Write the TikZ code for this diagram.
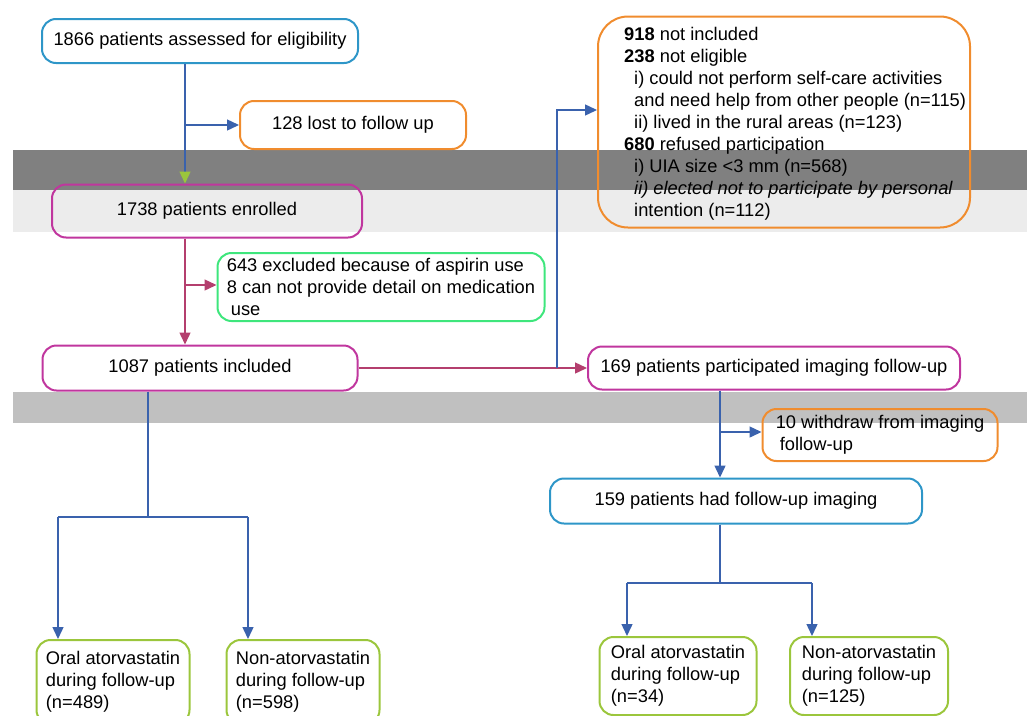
\documentclass[tikz,border=0pt]{standalone}
\usepackage{fontspec}
\setmainfont{Liberation Sans}
\usetikzlibrary{arrows.meta}

\definecolor{boxblue}{HTML}{2E96C8}
\definecolor{lineblue}{HTML}{3A62AD}
\definecolor{orgline}{HTML}{F08C2E}
\definecolor{magbox}{HTML}{C0369E}
\definecolor{magline}{HTML}{B43F6E}
\definecolor{greenbox}{HTML}{3EE67C}
\definecolor{limebox}{HTML}{9BC63C}
\definecolor{banddark}{HTML}{808080}
\definecolor{bandlight}{HTML}{ECECEC}
\definecolor{bandmid}{HTML}{C0C0C0}

\tikzset{
  box/.style={draw, rounded corners=14pt, line width=2pt, align=center, inner sep=2pt},
  barr/.style={draw=lineblue, line width=1.4pt, -{Triangle[length=12pt,width=11pt]}},
  marr/.style={draw=magline, line width=1.4pt, -{Triangle[length=12pt,width=11pt]}},
}

\begin{document}
\begin{tikzpicture}[x=1pt,y=-1pt,font=\fontsize{18.3}{22}\selectfont]
\useasboundingbox (0,0) rectangle (1027,715);

% bands
\fill[banddark] (13,150) rectangle (1027,190);
\fill[bandlight] (13,190) rectangle (1027,232);
\fill[bandmid] (13,392) rectangle (1027,423);

\begin{scope}
\node[box, draw=boxblue, minimum width=316, minimum height=44] (screen) at (200,41) {1866 patients assessed for eligibility};
\node[box, draw=orgline, minimum width=226, minimum height=48] (lost) at (353,125) {128 lost to follow up};
\node[box, draw=orgline, rounded corners=30pt, minimum width=372, minimum height=211] (notinc) at (784,122) {};
\node[anchor=north west, inner sep=0pt, align=left] (notinctxt) at (624,27) {%
\textbf{918} not included\\
\textbf{238} not eligible\\
\hspace*{10pt}i) could not perform self-care activities\\
\hspace*{10pt}and need help from other people (n=115)\\
\hspace*{10pt}ii) lived in the rural areas (n=123)\\
\textbf{680} refused participation\\
\hspace*{10pt}i) UIA size <3 mm (n=568)\\
\hspace*{10pt}\textit{ii) elected not to participate by personal}\\
\hspace*{10pt}intention (n=112)};

\node[box, draw=magbox, minimum width=310, minimum height=53] (enrol) at (207,211) {1738 patients enrolled};
\node[box, draw=greenbox, align=left, minimum width=327, minimum height=68] (excl) at (381,287) {643 excluded because of aspirin use\\8 can not provide detail on medication\\\hspace*{4pt}use};
\node[box, draw=magbox, minimum width=315, minimum height=45] (incl) at (200,368) {1087 patients included};
\node[box, draw=magbox, minimum width=372, minimum height=43] (part) at (774,368) {169 patients participated imaging follow-up};
\node[box, draw=orgline, align=left, minimum width=235, minimum height=52] (withdraw) at (880,435) {10 withdraw from imaging\\\hspace*{4pt}follow-up};
\node[box, draw=boxblue, minimum width=372, minimum height=45] (imaged) at (736,501) {159 patients had follow-up imaging};

\node[box, draw=limebox, align=left, minimum width=153, minimum height=84] (oralA) at (113,682) {Oral atorvastatin\\during follow-up\\(n=489)};
\node[box, draw=limebox, align=left, minimum width=153, minimum height=84] (nonA) at (303,682) {Non-atorvastatin\\during follow-up\\(n=598)};
\node[box, draw=limebox, align=left, minimum width=157, minimum height=78] (oralB) at (678,676) {Oral atorvastatin\\during follow-up\\(n=34)};
\node[box, draw=limebox, align=left, minimum width=158, minimum height=78] (nonB) at (869,676) {Non-atorvastatin\\during follow-up\\(n=125)};
\end{scope}

\coordinate (t1) at (185,125);
\coordinate (t2) at (185,285);
\coordinate (t3) at (557,368);
\coordinate (t4) at (148,517);
\coordinate (t5) at (720,432);
\coordinate (t6) at (720,583);
\coordinate (s1) at (58,517);
\coordinate (s2) at (248,517);
\coordinate (s3) at (627,583);
\coordinate (s4) at (812,583);

\draw[barr, -{Triangle[length=12pt,width=11pt,color=limebox]}] (t1 |- screen.south) -- (t1 |- enrol.north);
\draw[barr] (t1) -- (lost.west |- t1);

\draw[marr] (t2 |- enrol.south) -- (t2 |- incl.north);
\draw[marr] (t2) -- (excl.west |- t2);

\draw[marr] (incl.east) -- (part.west);
\draw[barr] (t3) |- ([yshift=12pt]notinc.west);

\draw[draw=lineblue, line width=1.4pt] (t4 |- incl.south) -- (t4);
\draw[draw=lineblue, line width=1.4pt] (s1) -- (s2);
\draw[barr] (s1) -- (s1 |- oralA.north);
\draw[barr] (s2) -- (s2 |- nonA.north);

\draw[barr] (t5 |- part.south) -- (t5 |- imaged.north);
\draw[barr] (t5) -- (withdraw.west |- t5);

\draw[draw=lineblue, line width=1.4pt] (t6 |- imaged.south) -- (t6);
\draw[draw=lineblue, line width=1.4pt] (s3) -- (s4);
\draw[barr] (s3) -- (s3 |- oralB.north);
\draw[barr] (s4) -- (s4 |- nonB.north);

\end{tikzpicture}
\end{document}
